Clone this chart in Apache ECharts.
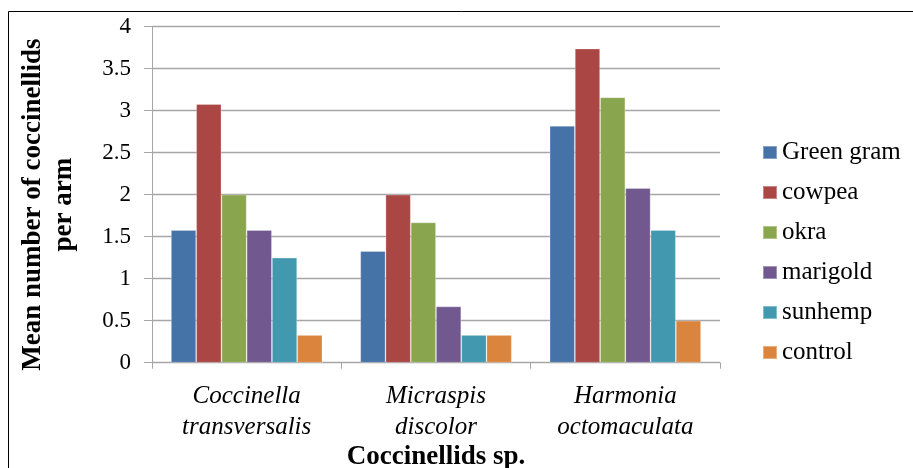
<!DOCTYPE html>
<html>
<head>
<meta charset="utf-8">
<script src="https://cdn.jsdelivr.net/npm/echarts@6/dist/echarts.min.js"></script>
<style>
html,body{margin:0;padding:0;background:#fff;}
#chart{width:913px;height:468px;}
</style>
</head>
<body>
<div id="chart"></div>
<script>
const categories = ["Coccinella transversalis", "Micraspis discolor", "Harmonia octomaculata"];
const seriesNames = ["Green gram", "cowpea", "okra", "marigold", "sunhemp", "control"];
const greenGram = [1.58, 1.33, 2.82];
const cowpea = [3.08, 2.00, 3.74];
const okra = [2.00, 1.67, 3.16];
const marigold = [1.58, 0.67, 2.08];
const sunhemp = [1.25, 0.33, 1.58];
const control = [0.33, 0.33, 0.50];
const colors = ["#4572A7", "#AA4643", "#89A54E", "#71588F", "#4198AF", "#DB843D"];
const yTicks = [0, 0.5, 1, 1.5, 2, 2.5, 3, 3.5, 4];

const values = [greenGram, cowpea, okra, marigold, sunhemp, control];
const serif = "'Liberation Serif', 'Times New Roman', serif";

const chart = echarts.init(document.getElementById('chart'));
chart.setOption({
  animation: false,
  backgroundColor: '#fff',
  color: colors,
  graphic: [{
    type: 'rect',
    shape: { x: 8.5, y: 11.5, width: 1000, height: 1000 },
    style: { fill: 'none', stroke: '#000', lineWidth: 1 },
    silent: true
  }],
  grid: { left: 152, right: 193, top: 26.7, bottom: 105.3, containLabel: false, outerBoundsMode: 'none' },
  legend: {
    orient: 'vertical',
    left: 757,
    top: 135,
    itemWidth: 14,
    itemHeight: 13,
    itemGap: 15,
    icon: 'rect',
    textStyle: { fontFamily: serif, fontSize: 25, color: '#000', padding: [0, 0, 0, 0] },
    data: seriesNames
  },
  xAxis: {
    type: 'category',
    data: categories,
    name: 'Coccinellids sp.',
    nameLocation: 'middle',
    nameGap: 81,
    nameMoveOverlap: false,
    nameTextStyle: { fontFamily: serif, fontSize: 27, fontWeight: 'bold', color: '#000' },
    axisLine: { lineStyle: { color: '#A6A6A6', width: 1 } },
    axisTick: { show: true, length: 6, lineStyle: { color: '#A6A6A6' } },
    axisLabel: {
      margin: 18,
      fontFamily: serif,
      fontStyle: 'italic',
      fontSize: 25,
      lineHeight: 31,
      color: '#000',
      formatter: v => v.replace(' ', '\n')
    }
  },
  yAxis: {
    type: 'value',
    min: 0,
    max: 4,
    interval: 0.5,
    name: 'Mean number of coccinellids\nper arm',
    nameLocation: 'middle',
    nameRotate: 90,
    nameGap: 72,
    nameTextStyle: { fontFamily: serif, fontSize: 27, fontWeight: 'bold', color: '#000', lineHeight: 31, padding: [0, 20, 0, 0] },
    axisLine: { show: true, lineStyle: { color: '#A6A6A6', width: 1 } },
    axisTick: { show: true, length: 8, lineStyle: { color: '#A6A6A6' } },
    splitLine: { lineStyle: { color: '#A6A6A6', width: 1.3 } },
    axisLabel: {
      margin: 21,
      fontFamily: serif,
      fontSize: 23,
      color: '#000',
      formatter: v => (yTicks.indexOf(v) >= 0 ? String(v) : '')
    }
  },
  series: seriesNames.map((name, i) => ({
    name: name,
    type: 'bar',
    data: values[i],
    barGap: '0%',
    barCategoryGap: '20%',
    itemStyle: { color: colors[i], borderColor: 'rgba(255,255,255,0.35)', borderWidth: 0.8 }
  }))
});
</script>
</body>
</html>
